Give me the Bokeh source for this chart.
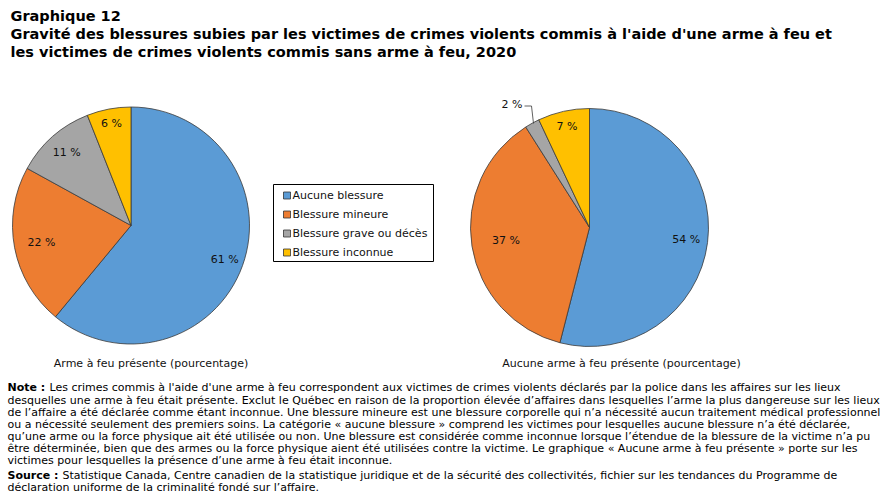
import numpy as np
from bokeh.plotting import figure
from bokeh.models import Range1d, ColumnDataSource
from bokeh.embed import file_html
from bokeh.resources import INLINE
from bokeh.core.properties import value

# ---------------- data ----------------
categories = ["Aucune blessure", "Blessure mineure", "Blessure grave ou décès", "Blessure inconnue"]
colors = ["#5B9BD5", "#ED7D31", "#A5A5A5", "#FFC000"]
with_firearm = [61, 22, 11, 6]
without_firearm = [54, 37, 2, 7]
pie_captions = ["Arme à feu présente (pourcentage)", "Aucune arme à feu présente (pourcentage)"]

title_lines = [
    "Graphique 12",
    "Gravité des blessures subies par les victimes de crimes violents commis à l'aide d'une arme à feu et",
    "les victimes de crimes violents commis sans arme à feu, 2020",
]
note_lines = [
    ("Note :", "Les crimes commis à l'aide d'une arme à feu correspondent aux victimes de crimes violents déclarés par la police dans les affaires sur les lieux"),
    ("", "desquelles une arme à feu était présente. Exclut le Québec en raison de la proportion élevée d’affaires dans lesquelles l’arme la plus dangereuse sur les lieux"),
    ("", "de l’affaire a été déclarée comme étant inconnue. Une blessure mineure est une blessure corporelle qui n’a nécessité aucun traitement médical professionnel"),
    ("", "ou a nécessité seulement des premiers soins. La catégorie « aucune blessure » comprend les victimes pour lesquelles aucune blessure n’a été déclarée,"),
    ("", "qu’une arme ou la force physique ait été utilisée ou non. Une blessure est considérée comme inconnue lorsque l’étendue de la blessure de la victime n’a pu"),
    ("", "être déterminée, bien que des armes ou la force physique aient été utilisées contre la victime. Le graphique « Aucune arme à feu présente » porte sur les"),
    ("", "victimes pour lesquelles la présence d’une arme à feu était inconnue."),
    ("Source :", "Statistique Canada, Centre canadien de la statistique juridique et de la sécurité des collectivités, fichier sur les tendances du Programme de"),
    ("", "déclaration uniforme de la criminalité fondé sur l’affaire."),
]

# ---------------- figure ----------------
W, H = 889, 502
FONT = "DejaVu Sans"


def Y(py):
    return H - py


p = figure(width=W, height=H, x_range=Range1d(0, W), y_range=Range1d(0, H),
           output_backend="svg", toolbar_location=None, min_border=0,
           x_axis_type=None, y_axis_type=None)
p.grid.visible = False
p.outline_line_color = None
p.background_fill_color = "white"
p.border_fill_color = "white"


def draw_pie(vals, cx, cy, r, label_frac, skip_small):
    v = np.array(vals, dtype=float)
    frac = v / v.sum()
    cum = np.concatenate([[0], np.cumsum(frac)])
    start = np.pi / 2 - cum[:-1] * 2 * np.pi
    end = np.pi / 2 - cum[1:] * 2 * np.pi
    src = ColumnDataSource(dict(start=start, end=end, color=colors, cat=categories))
    p.wedge(x=cx, y=Y(cy), radius=r, start_angle="start", end_angle="end",
            direction="clock", fill_color="color", line_color="#3a3a3a",
            line_width=0.8, source=src)
    mid = (cum[:-1] + cum[1:]) / 2 * 2 * np.pi
    lx, ly, lt = [], [], []
    for i, val in enumerate(vals):
        if val < skip_small:
            continue
        lx.append(cx + label_frac[i] * r * np.sin(mid[i]))
        ly.append(Y(cy) + label_frac[i] * r * np.cos(mid[i]))
        lt.append(f"{val} %")
    p.text(x=lx, y=ly, text=lt, text_font=value(FONT), text_font_size="11px",
           text_align="center", text_baseline="middle", text_color="#111111")
    return mid


draw_pie(with_firearm, 130.5, 225, 118.5, [0.84, 0.77, 0.82, 0.88], 0)
mid2 = draw_pie(without_firearm, 589, 227, 119, [0.82, 0.71, 0.80, 0.87], 3)

# leader label for the small slice of the second pie
small_i = int(np.argmin(without_firearm))
p.line(x=[524, 531, 533], y=[Y(105.5), Y(105.5), Y(123)], line_color="#3a3a3a", line_width=0.8)
p.text(x=[522], y=[Y(104)], text=[f"{without_firearm[small_i]} %"], text_font=value(FONT),
       text_font_size="11px", text_align="right", text_baseline="middle", text_color="#111111")

# captions
p.text(x=[150.5, 621], y=[Y(363), Y(363)], text=pie_captions, text_font=value(FONT),
       text_font_size="11px", text_align="center", text_baseline="middle", text_color="#111111")

# legend
p.rect(x=353, y=Y(222.5), width=160, height=77, fill_color="white", line_color="black", line_width=1)
ly = [Y(195), Y(214), Y(233), Y(252)]
p.rect(x=[286.5] * 4, y=ly, width=7, height=7, fill_color=colors, line_color="#333333", line_width=0.8)
p.text(x=[292] * 4, y=ly, text=categories, text_font=value(FONT), text_font_size="11px",
       text_align="left", text_baseline="middle", text_color="#111111")

# title
p.text(x=[10, 10, 10], y=[Y(15), Y(33), Y(51)], text=title_lines, text_font=value(FONT),
       text_font_size="14.5px", text_font_style="bold", text_align="left",
       text_baseline="middle", text_color="black")

# notes
note_y = [387, 399.5, 412, 424, 436, 448, 460, 475, 487]
bold_x, bold_y, bold_t, norm_x, norm_y, norm_t = [], [], [], [], [], []
for (b, t), yy in zip(note_lines, note_y):
    if b:
        bold_x.append(7); bold_y.append(Y(yy)); bold_t.append(b)
        norm_x.append(49 if b == "Note :" else 62)
    else:
        norm_x.append(7)
    norm_y.append(Y(yy)); norm_t.append(t)
p.text(x=bold_x, y=bold_y, text=bold_t, text_font=value(FONT), text_font_size="11px",
       text_font_style="bold", text_align="left", text_baseline="middle", text_color="black")
p.text(x=norm_x, y=norm_y, text=norm_t, text_font=value(FONT), text_font_size="11px",
       text_align="left", text_baseline="middle", text_color="black")

open("out.html", "w").write(file_html(p, INLINE))
